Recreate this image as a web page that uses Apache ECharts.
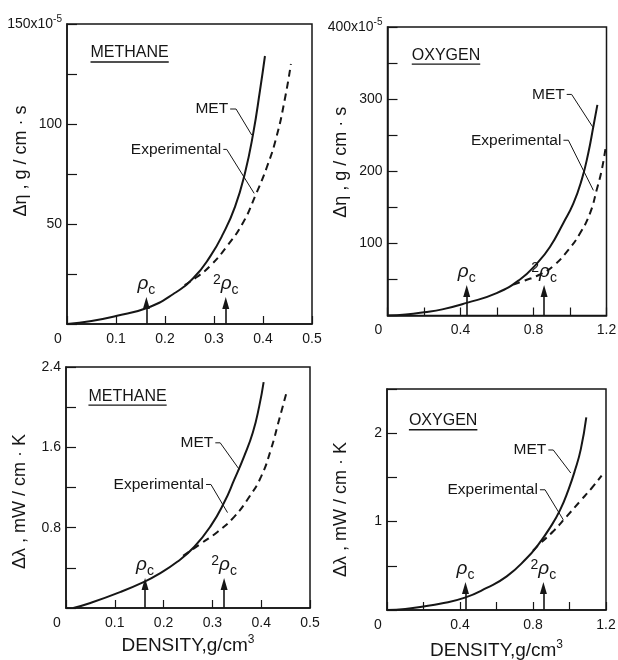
<!DOCTYPE html>
<html>
<head>
<meta charset="utf-8">
<script src="https://cdn.jsdelivr.net/npm/echarts@6/dist/echarts.min.js"></script>
<style>
  html, body { margin: 0; padding: 0; background: #fff; }
  #chart { width: 618px; height: 660px; }
</style>
</head>
<body>
<div id="chart"></div>
<script>
// methane viscosity excess (x10^-5 g/cm.s)
const ch4EtaMetX = [0, 0.05, 0.1, 0.163, 0.217, 0.258, 0.292, 0.319, 0.343, 0.363, 0.380, 0.394, 0.404]
const ch4EtaMetY = [0, 1.5, 4, 8, 15, 23, 33.7, 45.3, 58.7, 75.3, 95.3, 117, 134]
const ch4EtaExpX = [0.24, 0.265, 0.292, 0.326, 0.360, 0.384, 0.408, 0.428, 0.445, 0.457]
const ch4EtaExpY = [19.5, 23.5, 29, 38.7, 51, 64, 78.5, 94, 113, 130]

// oxygen viscosity excess (x10^-5 g/cm.s)
const o2EtaMetX = [0, 0.1, 0.2, 0.3, 0.434, 0.598, 0.726, 0.818, 0.890, 0.963, 1.018, 1.064, 1.100, 1.128, 1.150]
const o2EtaMetY = [0, 1.5, 4.5, 8.5, 17.5, 31, 50, 72, 95, 128, 155, 188, 225, 262, 292]
const o2EtaExpX = [0.69, 0.753, 0.836, 0.908, 0.991, 1.055, 1.110, 1.146, 1.174, 1.196]
const o2EtaExpY = [43, 48.5, 57, 68.5, 91, 114, 142, 174, 202, 234]

// methane thermal conductivity excess (mW/cm.K)
const ch4LamMetX = [0.015, 0.05, 0.112, 0.160, 0.187, 0.228, 0.263, 0.297, 0.324, 0.345, 0.365, 0.383, 0.396, 0.405]
const ch4LamMetY = [0, 0.05, 0.16, 0.26, 0.33, 0.46, 0.61, 0.82, 1.05, 1.28, 1.51, 1.75, 2.01, 2.25]
const ch4LamExpX = [0.24, 0.276, 0.311, 0.345, 0.376, 0.400, 0.420, 0.437, 0.451]
const ch4LamExpY = [0.52, 0.64, 0.76, 0.91, 1.11, 1.31, 1.58, 1.88, 2.13]

// oxygen thermal conductivity excess (mW/cm.K)
const o2LamMetX = [0, 0.1, 0.2, 0.29, 0.427, 0.546, 0.656, 0.765, 0.829, 0.893, 0.948, 0.994, 1.030, 1.062, 1.092]
const o2LamMetY = [0, 0.01, 0.04, 0.07, 0.14, 0.25, 0.38, 0.585, 0.74, 0.93, 1.13, 1.36, 1.58, 1.82, 2.18]
const o2LamExpX = [0.80, 0.838, 0.911, 0.985, 1.058, 1.122, 1.176]
const o2LamExpY = [0.67, 0.75, 0.89, 1.06, 1.23, 1.38, 1.52]

// critical density markers (rho_c, 2 rho_c)
const ch4Rho = [0.162, 0.324]
const o2RhoTop = [0.434, 0.858]
const o2RhoBottom = [0.43, 0.857]

// tick labels
const xLabelsCh4 = ['0', '0.1', '0.2', '0.3', '0.4', '0.5']
const xLabelsO2 = ['0', '', '0.4', '', '0.8', '', '1.2']
const yLabelsCh4Eta = ['', '', '50', '', '100', '', '150x10{sup|-5}']
const yLabelsO2Eta = ['', '', '100', '', '200', '', '300', '', '400x10{sup|-5}']
const yLabelsCh4Lam = ['', '', '0.8', '', '1.6', '', '2.4']
const yLabelsO2Lam = ['', '', '1', '', '2', '']

const FONT = '"Liberation Sans", Arial, sans-serif'
const INK = '#161616'
const zip = (xs, ys) => xs.map((x, i) => [x, ys[i]])

const panels = [
  {
    grid: { left: 67, top: 24, width: 245, height: 300 },
    xMax: 0.5, xStep: 0.1, xLabels: xLabelsCh4,
    yMax: 150, yStep: 25, yLabels: yLabelsCh4Eta,
    yName: 'Δη , g / cm · s', yNamePad: [0, 0, 0, 26], xName: '',
    met: zip(ch4EtaMetX, ch4EtaMetY), exp: zip(ch4EtaExpX, ch4EtaExpY),
    rho: ch4Rho, arrowTop: 10.5,
    title: 'METHANE', titleAt: [0.048, 135.5],
    metLeader: [[0.333, 107.5], [0.345, 107.5], [0.377, 94.5]],
    expLeader: [[0.319, 87.3], [0.326, 87.3], [0.382, 65.3]]
  },
  {
    grid: { left: 387.5, top: 27, width: 219, height: 288.5 },
    xMax: 1.2, xStep: 0.2, xLabels: xLabelsO2,
    yMax: 400, yStep: 50, yLabels: yLabelsO2Eta,
    yName: 'Δη , g / cm · s', yNamePad: [0, 0, 0, 18], xName: '',
    met: zip(o2EtaMetX, o2EtaMetY), exp: zip(o2EtaExpX, o2EtaExpY),
    rho: o2RhoTop, arrowTop: 34,
    title: 'OXYGEN', titleAt: [0.133, 361],
    metLeader: [[0.982, 306.5], [1.009, 306.5], [1.124, 261.6]],
    expLeader: [[0.964, 243], [0.991, 243], [1.128, 173.5]]
  },
  {
    grid: { left: 66, top: 367, width: 244, height: 241 },
    xMax: 0.5, xStep: 0.1, xLabels: xLabelsCh4,
    yMax: 2.4, yStep: 0.4, yLabels: yLabelsCh4Lam,
    yName: 'Δλ , mW / cm · K', yNamePad: [0, 28, 0, 0],
    xName: 'DENSITY,g/cm{sup|3}', xNameGap: 26,
    met: zip(ch4LamMetX, ch4LamMetY), exp: zip(ch4LamExpX, ch4LamExpY),
    rho: ch4Rho, arrowTop: 0.24,
    title: 'METHANE', titleAt: [0.046, 2.11],
    metLeader: [[0.306, 1.645], [0.316, 1.645], [0.355, 1.38]],
    expLeader: [[0.287, 1.23], [0.297, 1.23], [0.331, 0.95]]
  },
  {
    grid: { left: 387, top: 389, width: 219, height: 221 },
    xMax: 1.2, xStep: 0.2, xLabels: xLabelsO2,
    yMax: 2.5, yStep: 0.5, yLabels: yLabelsO2Lam,
    yName: 'Δλ , mW / cm · K', yNamePad: [0, 20, 0, 0],
    xName: 'DENSITY,g/cm{sup|3}', xNameGap: 29,
    met: zip(o2LamMetX, o2LamMetY), exp: zip(o2LamExpX, o2LamExpY),
    rho: o2RhoBottom, arrowTop: 0.25,
    title: 'OXYGEN', titleAt: [0.12, 2.14],
    metLeader: [[0.884, 1.81], [0.911, 1.81], [1.007, 1.55]],
    expLeader: [[0.838, 1.36], [0.866, 1.36], [0.966, 1.02]]
  }
]

const pickLabel = (labels, step) => (v) => {
  const s = labels[Math.round(v / step)]
  return s === undefined ? '' : s
}

const option = {
  animation: false,
  backgroundColor: '#fff',
  textStyle: { fontFamily: FONT, color: INK },
  grid: panels.map((p) => ({
    ...p.grid,
    show: true,
    borderColor: INK,
    borderWidth: 1.5,
    containLabel: false,
    outerBoundsMode: 'none'
  })),
  xAxis: panels.map((p, i) => ({
    gridIndex: i,
    type: 'value',
    min: 0,
    max: p.xMax,
    interval: p.xStep,
    name: p.xName,
    nameLocation: 'middle',
    nameGap: p.xNameGap || 0,
    nameMoveOverlap: false,
    nameTextStyle: {
      fontSize: 19, color: INK, fontFamily: FONT,
      rich: { sup: { fontSize: 12, padding: [0, 0, 12, 0], color: INK } }
    },
    axisLine: { show: true, onZero: false, lineStyle: { color: INK, width: 1.5 } },
    axisTick: { show: true, inside: true, length: 8, lineStyle: { color: INK, width: 1.2 } },
    splitLine: { show: false },
    axisLabel: {
      color: INK,
      fontSize: 14,
      margin: 8,
      showMinLabel: true,
      showMaxLabel: true,
      formatter: (v) => {
        const s = pickLabel(p.xLabels, p.xStep)(v)
        return v === 0 ? '{z|' + s + '}' : s
      },
      rich: { z: { fontSize: 14, padding: [0, 18, 0, 0] } }
    }
  })),
  yAxis: panels.map((p, i) => ({
    gridIndex: i,
    type: 'value',
    min: 0,
    max: p.yMax,
    interval: p.yStep,
    name: p.yName,
    nameLocation: 'middle',
    nameGap: 37,
    nameRotate: 90,
    nameMoveOverlap: false,
    nameTextStyle: { fontSize: 18, color: INK, fontFamily: FONT, padding: p.yNamePad },
    axisLine: { show: true, onZero: false, lineStyle: { color: INK, width: 1.5 } },
    axisTick: { show: true, inside: true, length: 10, lineStyle: { color: INK, width: 1.2 } },
    splitLine: { show: false },
    axisLabel: {
      color: INK,
      fontSize: 14,
      margin: 5,
      showMaxLabel: true,
      formatter: pickLabel(p.yLabels, p.yStep),
      rich: { sup: { fontSize: 10, padding: [0, 0, 10, 0] } }
    }
  })),
  series: panels.flatMap((p, i) => [
    {
      type: 'line',
      name: 'MET',
      xAxisIndex: i,
      yAxisIndex: i,
      data: p.met,
      smooth: 0.5,
      symbol: 'none',
      silent: true,
      lineStyle: { color: INK, width: 2 },
      markLine: {
        silent: true,
        symbol: ['none', 'triangle'],
        symbolSize: [7, 12],
        lineStyle: { color: INK, width: 1.6, type: 'solid' },
        emphasis: { disabled: true },
        label: {
          show: true,
          position: 'end',
          distance: 6,
          color: INK,
          fontSize: 18,
          formatter: (prm) => (prm.dataIndex === 0 ? '{r|ρ}{s|c}' : '{n|2}{r|ρ}{s|c}'),
          rich: {
            r: { fontSize: 19, fontStyle: 'italic', color: INK },
            s: { fontSize: 14, padding: [12, 0, 0, 0], color: INK },
            n: { fontSize: 14, padding: [0, 0, 8, 0], color: INK }
          }
        },
        data: p.rho.map((r) => [{ coord: [r, 0] }, { coord: [r, p.arrowTop] }])
      }
    },
    {
      type: 'line',
      name: 'Experimental',
      xAxisIndex: i,
      yAxisIndex: i,
      data: p.exp,
      smooth: 0.5,
      symbol: 'none',
      silent: true,
      lineStyle: { color: INK, width: 2, type: [7, 5] }
    }
  ])
}

const chart = echarts.init(document.getElementById('chart'))
chart.setOption(option)

// annotations: panel titles with underline, curve callouts with leader lines
const ctx = document.createElement('canvas').getContext('2d')
const textWidth = (t, font) => {
  ctx.font = font
  return ctx.measureText(t).width
}
const TITLE_FONT = '16px ' + FONT
const NOTE_FONT = '15.5px ' + FONT
const graphics = []
panels.forEach((p, i) => {
  const toPx = (pt) => chart.convertToPixel({ gridIndex: i }, pt)
  const t = toPx(p.titleAt)
  const tw = textWidth(p.title, TITLE_FONT)
  graphics.push({
    type: 'text', x: t[0], y: t[1], silent: true,
    style: { text: p.title, font: TITLE_FONT, fill: INK, textAlign: 'left', textVerticalAlign: 'middle' }
  })
  graphics.push({
    type: 'line', silent: true,
    shape: { x1: t[0], y1: t[1] + 9, x2: t[0] + tw, y2: t[1] + 9 },
    style: { stroke: INK, lineWidth: 1.4 }
  })
  ;[[p.metLeader, 'MET'], [p.expLeader, 'Experimental']].forEach(([leader, label]) => {
    const pts = leader.map(toPx)
    graphics.push({
      type: 'polyline', silent: true,
      shape: { points: pts },
      style: { stroke: INK, lineWidth: 1, fill: null }
    })
    graphics.push({
      type: 'text', x: pts[0][0] - 2, y: pts[0][1], silent: true,
      style: { text: label, font: NOTE_FONT, fill: INK, textAlign: 'right', textVerticalAlign: 'middle' }
    })
  })
})
chart.setOption({ graphic: graphics })
</script>
</body>
</html>
